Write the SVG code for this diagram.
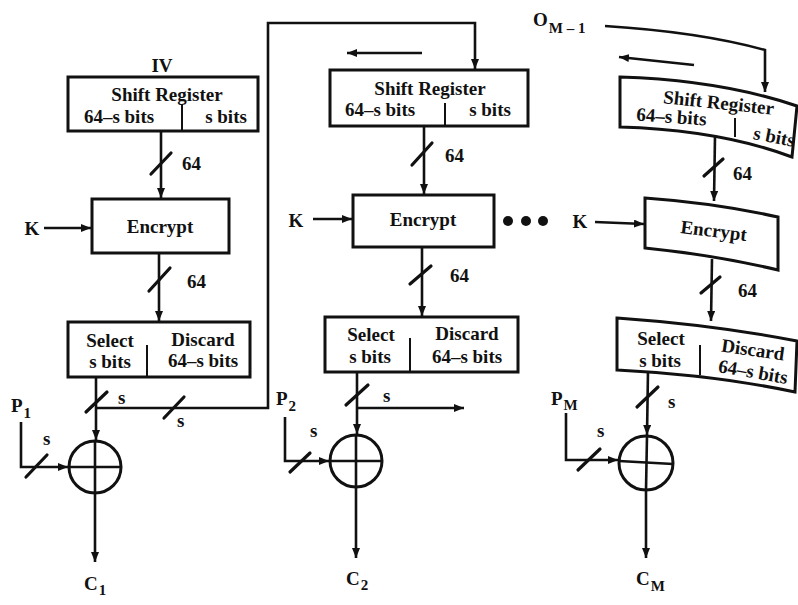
<svg xmlns="http://www.w3.org/2000/svg" width="798" height="605" viewBox="0 0 798 605">
<defs>
<style>
.box{fill:#fff;stroke:#111;stroke-width:3}
.ln{fill:none;stroke:#111;stroke-width:2.6}
.sl{stroke:#111;stroke-width:3.2;stroke-linecap:round}
.dv{stroke:#111;stroke-width:2}
text{font-family:"Liberation Serif","DejaVu Serif",serif;font-weight:bold;fill:#111;font-size:19px}
.m{text-anchor:middle}
.sub{font-size:15px}
</style>
<marker id="ah" viewBox="0 0 10 8" refX="10" refY="4" markerWidth="10" markerHeight="8" markerUnits="userSpaceOnUse" orient="auto">
<path d="M0,0 L10,4 L0,8 z" fill="#111"/>
</marker>
</defs>
<rect width="798" height="605" fill="#fff"/>

<!-- Column 1 -->
<g id="iv"><text x="162" y="72" class="m">IV</text></g>
<g id="sr1">
<rect class="box" x="68" y="77" width="190" height="54"/>
<line class="dv" x1="182" y1="104" x2="182" y2="131"/>
<text x="167" y="101" class="m">Shift Register</text>
<text x="119" y="123" class="m">64–s bits</text>
<text x="226" y="123" class="m">s bits</text>
</g>
<g id="enc1">
<rect class="box" x="92" y="199" width="137" height="54"/>
<text x="160" y="233" class="m">Encrypt</text>
</g>
<g id="k1"><text x="32" y="235" class="m">K</text></g>
<g id="sel1">
<rect class="box" x="68" y="322" width="182" height="55"/>
<line class="dv" x1="147" y1="345" x2="147" y2="377"/>
<text x="110" y="347" class="m">Select</text>
<text x="110" y="368" class="m">s bits</text>
<text x="203" y="346" class="m">Discard</text>
<text x="203" y="367" class="m">64–s bits</text>
</g>
<g id="xor1">
<circle class="box" cx="95" cy="467" r="26" fill="none"/>
<line class="ln" x1="69" y1="467" x2="121" y2="467"/>
<line class="ln" x1="95" y1="441" x2="95" y2="493"/>
</g>
<g id="p1"><text x="11" y="412">P<tspan class="sub" dx="1" dy="6">1</tspan></text></g>
<g id="c1"><text x="84" y="590">C<tspan class="sub" dx="1" dy="5">1</tspan></text></g>

<!-- Column 2 -->
<g id="sr2">
<rect class="box" x="330" y="70" width="198" height="56"/>
<line class="dv" x1="445" y1="103" x2="445" y2="126"/>
<text x="430" y="95" class="m">Shift Register</text>
<text x="380" y="116" class="m">64–s bits</text>
<text x="490" y="116" class="m">s bits</text>
</g>
<g id="enc2">
<rect class="box" x="353" y="195" width="141" height="52"/>
<text x="423" y="226" class="m">Encrypt</text>
</g>
<g id="k2"><text x="296" y="227" class="m">K</text></g>
<g id="sel2">
<rect class="box" x="325" y="317" width="193" height="55"/>
<line class="dv" x1="410" y1="338" x2="410" y2="372"/>
<text x="371" y="341" class="m">Select</text>
<text x="370" y="363" class="m">s bits</text>
<text x="467" y="340" class="m">Discard</text>
<text x="467" y="363" class="m">64–s bits</text>
</g>
<g id="xor2">
<circle class="box" cx="356" cy="461" r="26" fill="none"/>
<line class="ln" x1="330" y1="461" x2="382" y2="461"/>
<line class="ln" x1="356" y1="435" x2="356" y2="487"/>
</g>
<g id="p2"><text x="276" y="405">P<tspan class="sub" dx="1" dy="6">2</tspan></text></g>
<g id="c2"><text x="346" y="585">C<tspan class="sub" dx="1" dy="5">2</tspan></text></g>

<g id="dots">
<circle cx="508" cy="221" r="5" fill="#111"/>
<circle cx="526" cy="221" r="5" fill="#111"/>
<circle cx="543" cy="221" r="5" fill="#111"/>
</g>

<!-- Column 3 (photographed with curvature) -->
<g id="om1"><text x="533" y="26">O<tspan class="sub" dx="1" dy="7">M – 1</tspan></text></g>
<g id="sr3">
<path class="box" d="M620,77 Q720,80 797,106 L792,157 Q720,130 620,127 Z"/>
<line class="dv" x1="735" y1="118" x2="735" y2="137"/>
<text x="0" y="0" class="m" transform="translate(718,109) rotate(6)">Shift Register</text>
<text x="0" y="0" class="m" transform="translate(671,123) rotate(4)">64–s bits</text>
<text x="0" y="0" class="m" transform="translate(773,143) rotate(11)">s bits</text>
</g>
<g id="enc3">
<path class="box" d="M645,198 Q715,203 778,217 L778,270 Q715,255 645,248 Z"/>
<text x="0" y="0" class="m" transform="translate(713,237) rotate(7)">Encrypt</text>
</g>
<g id="k3"><text x="580" y="228" class="m">K</text></g>
<g id="sel3">
<path class="box" d="M617,318 Q715,325 797,341 L795,392 Q715,375 617,370 Z"/>
<line class="dv" x1="700" y1="345" x2="700" y2="375"/>
<text x="661" y="345" class="m">Select</text>
<text x="660" y="367" class="m">s bits</text>
<text x="0" y="0" class="m" transform="translate(752,356) rotate(8)">Discard</text>
<text x="0" y="0" class="m" transform="translate(752,378) rotate(10)">64–s bits</text>
</g>
<g id="xor3">
<circle class="box" cx="646" cy="463" r="27" fill="none"/>
<line class="ln" x1="619" y1="461" x2="673" y2="464"/>
<line class="ln" x1="647" y1="436" x2="646" y2="490"/>
</g>
<g id="pm"><text x="551" y="405">P<tspan class="sub" dx="1" dy="5">M</tspan></text></g>
<g id="cm"><text x="636" y="585">C<tspan class="sub" dx="1" dy="6">M</tspan></text></g>

<!-- Connectors -->
<g id="connectors">
<!-- column 1 -->
<line class="ln" x1="161" y1="131" x2="161" y2="198" marker-end="url(#ah)"/>
<line class="sl" x1="151" y1="174" x2="171" y2="153"/>
<text x="182" y="170">64</text>
<line class="ln" x1="44" y1="228" x2="91" y2="228" marker-end="url(#ah)"/>
<line class="ln" x1="159" y1="253" x2="159" y2="321" marker-end="url(#ah)"/>
<line class="sl" x1="149" y1="291" x2="170" y2="268"/>
<text x="187" y="288">64</text>
<line class="ln" x1="96" y1="377" x2="96" y2="440" marker-end="url(#ah)"/>
<line class="sl" x1="86" y1="412" x2="107" y2="392"/>
<text x="118" y="404">s</text>
<path class="ln" d="M96,408 H268 V23 H475 V69" marker-end="url(#ah)"/>
<line class="sl" x1="164" y1="418" x2="184" y2="397"/>
<text x="177" y="427">s</text>
<path class="ln" d="M21,422 V467 H68" marker-end="url(#ah)"/>
<line class="sl" x1="26" y1="477" x2="47" y2="455"/>
<text x="43" y="445">s</text>
<line class="ln" x1="95" y1="493" x2="95" y2="562" marker-end="url(#ah)"/>

<!-- column 2 -->
<line class="ln" x1="422" y1="53" x2="347" y2="53" marker-end="url(#ah)"/>
<line class="ln" x1="424" y1="126" x2="424" y2="194" marker-end="url(#ah)"/>
<line class="sl" x1="412" y1="165" x2="432" y2="143"/>
<text x="445" y="162">64</text>
<line class="ln" x1="313" y1="219" x2="352" y2="219" marker-end="url(#ah)"/>
<line class="ln" x1="422" y1="247" x2="422" y2="316" marker-end="url(#ah)"/>
<line class="sl" x1="410" y1="284" x2="431" y2="266"/>
<text x="450" y="282">64</text>
<line class="ln" x1="357" y1="372" x2="357" y2="434" marker-end="url(#ah)"/>
<line class="sl" x1="346" y1="405" x2="368" y2="385"/>
<text x="383" y="402">s</text>
<line class="ln" x1="357" y1="408" x2="464" y2="408" marker-end="url(#ah)"/>
<path class="ln" d="M285,417 V461 H329" marker-end="url(#ah)"/>
<line class="sl" x1="290" y1="472" x2="310" y2="453"/>
<text x="310" y="437">s</text>
<line class="ln" x1="356" y1="487" x2="356" y2="558" marker-end="url(#ah)"/>

<!-- column 3 -->
<path class="ln" d="M605,26 Q700,32 765,50 V92" marker-end="url(#ah)"/>
<line class="ln" x1="694" y1="65" x2="619" y2="57" marker-end="url(#ah)"/>
<line class="ln" x1="715" y1="136" x2="714" y2="201" marker-end="url(#ah)"/>
<line class="sl" x1="704" y1="176" x2="723" y2="159"/>
<text x="733" y="180">64</text>
<line class="ln" x1="595" y1="222" x2="644" y2="224" marker-end="url(#ah)"/>
<line class="ln" x1="712" y1="259" x2="711" y2="321" marker-end="url(#ah)"/>
<line class="sl" x1="701" y1="293" x2="720" y2="277"/>
<text x="738" y="297">64</text>
<line class="ln" x1="648" y1="371" x2="647" y2="435" marker-end="url(#ah)"/>
<line class="sl" x1="637" y1="407" x2="658" y2="387"/>
<text x="668" y="408">s</text>
<path class="ln" d="M566,413 V460 H618" marker-end="url(#ah)"/>
<line class="sl" x1="578" y1="470" x2="600" y2="449"/>
<text x="597" y="437">s</text>
<line class="ln" x1="646" y1="490" x2="646" y2="558" marker-end="url(#ah)"/>
</g>
</svg>
